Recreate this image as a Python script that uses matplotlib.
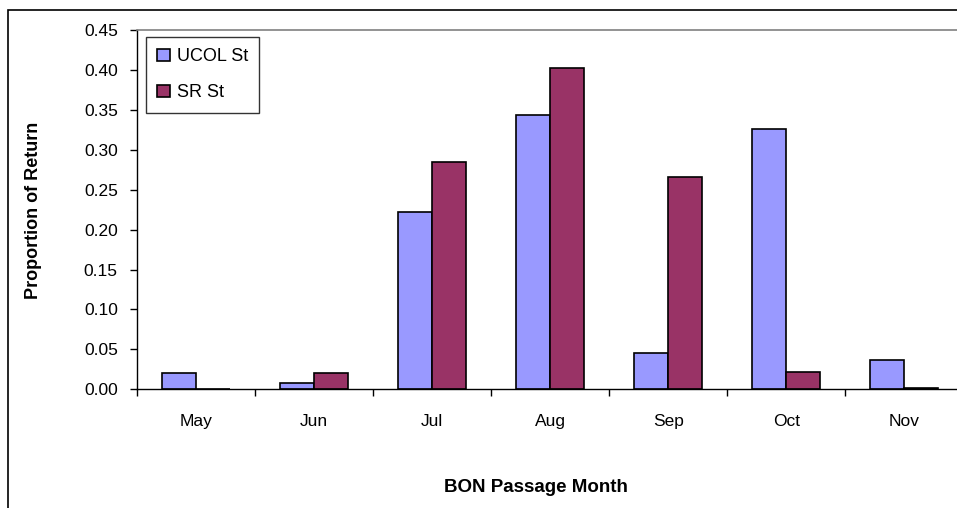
import matplotlib
matplotlib.use("Agg")
import matplotlib.pyplot as plt
from matplotlib.patches import Rectangle
import numpy as np

plt.rcParams['font.family'] = ['Liberation Sans', 'DejaVu Sans']

months = ["May", "Jun", "Jul", "Aug", "Sep", "Oct", "Nov"]
ucol_st = [0.020, 0.0075, 0.222, 0.343, 0.045, 0.326, 0.037]
sr_st = [0.0, 0.020, 0.285, 0.403, 0.266, 0.022, 0.002]
series_names = ["UCOL St", "SR St"]
colors = ["#9999FF", "#993366"]

W, H = 957, 508
fig = plt.figure(figsize=(W / 100, H / 100), dpi=100)
fig.patch.set_facecolor("white")

# axes position in pixels: left 137.3, right 963.3, top 30, bottom 389.3
L, R, T, B = 137.3, 963.3, 30.0, 389.3
ax = fig.add_axes([L / W, 1 - B / H, (R - L) / W, (B - T) / H])

x = np.arange(len(months))
w = 0.288
ax.bar(x - w / 2, ucol_st, width=w, color=colors[0], edgecolor="black",
       linewidth=1.2, label=series_names[0])
ax.bar(x + w / 2, sr_st, width=w, color=colors[1], edgecolor="black",
       linewidth=1.2, label=series_names[1])

ax.set_xlim(-0.5, len(months) - 0.5)
ax.set_ylim(0, 0.45)
ax.set_yticks(np.arange(0, 0.451, 0.05))
ax.set_yticklabels([f"{v:.2f}" for v in np.arange(0, 0.451, 0.05)], fontsize=12.5)

# major ticks at category boundaries, labels at centers (minor)
ax.set_xticks(np.arange(-0.5, len(months) + 0.5, 1.0))
ax.set_xticklabels([])
ax.set_xticks(x, minor=True)
ax.set_xticklabels(months, minor=True, fontsize=12.5)
ax.tick_params(axis="x", which="major", direction="out", length=5, width=1, color="black")
ax.tick_params(axis="x", which="minor", length=0, pad=18)
ax.tick_params(axis="y", direction="out", length=5, width=1, pad=9)

for s in ["left", "bottom"]:
    ax.spines[s].set_color("black")
    ax.spines[s].set_linewidth(1.0)
ax.spines["top"].set_color("#808080")
ax.spines["top"].set_linewidth(1.2)
ax.spines["right"].set_visible(False)

leg = ax.legend(loc="upper left", bbox_to_anchor=(0.0102, 0.9797), borderaxespad=0,
                fontsize=13, frameon=True, fancybox=False, handlelength=0.7,
                handleheight=0.7, handletextpad=0.4, labelspacing=1.05,
                borderpad=0.62)
leg.get_frame().set_edgecolor("black")
leg.get_frame().set_linewidth(1.0)

fig.text(34 / W, 1 - 210 / H, "Proportion of Return", rotation=90, ha="center",
         va="center", fontsize=13, fontweight="bold")
fig.text(536 / W, 1 - 488 / H, "BON Passage Month", ha="center", va="center",
         fontsize=13.5, fontweight="bold")

# outer chart border (extends beyond right/bottom edges)
fig.patches.append(Rectangle((8 / W, -0.1), 1.2, 1 - 10 / H + 0.1,
                             transform=fig.transFigure, fill=False,
                             edgecolor="black", linewidth=1.2))

fig.savefig("out.png", dpi=100)
